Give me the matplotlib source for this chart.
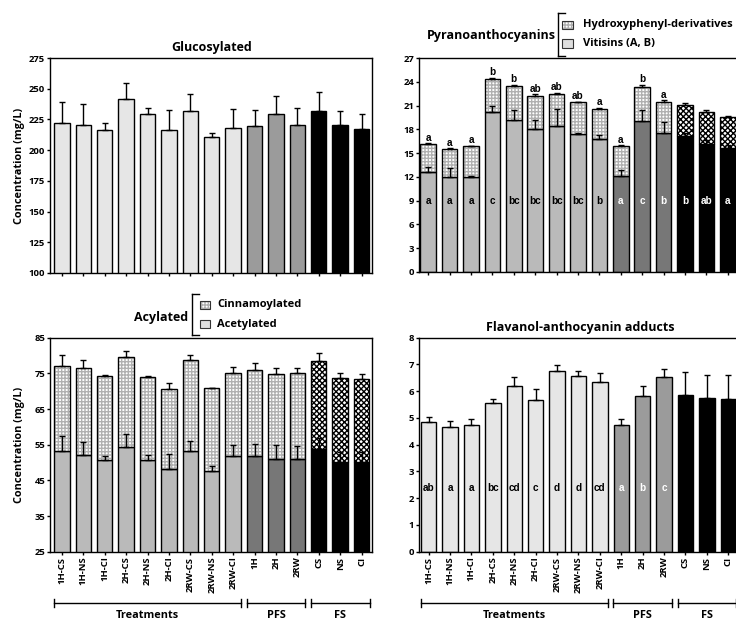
import matplotlib
matplotlib.use('Agg')
import matplotlib.pyplot as plt
import numpy as np
from matplotlib.transforms import blended_transform_factory
from matplotlib.patches import Rectangle
from matplotlib.lines import Line2D

plt.rcParams['font.family'] = ['Open Sans', 'DejaVu Sans']
plt.rcParams['font.weight'] = 'bold'
plt.rcParams['hatch.linewidth'] = 1.0

# ---------------- data ----------------
samples = ["1H-CS", "1H-NS", "1H-CI", "2H-CS", "2H-NS", "2H-CI",
           "2RW-CS", "2RW-NS", "2RW-CI", "1H", "2H", "2RW", "CS", "NS", "CI"]
group_names = ["Treatments", "PFS", "FS"]
group_first = [0, 9, 12]
group_last = [8, 11, 14]

gluc = [222.3, 220.7, 216.3, 241.3, 229.1, 216.6, 231.5, 211.1, 217.7,
        219.6, 229.1, 220.1, 231.5, 220.1, 217.1]
gluc_err = [17.1, 16.8, 5.4, 13.3, 5.4, 16.3, 13.9, 3.0, 16.0,
            12.7, 15.2, 13.9, 15.8, 12.0, 12.0]

vitisins = [12.6, 12.0, 12.0, 20.2, 19.2, 18.1, 18.4, 17.4, 16.8,
            12.1, 19.1, 17.5, 17.1, 16.2, 15.7]
vitisins_err = [0.6, 1.1, 0.15, 0.7, 1.25, 1.05, 2.15, 0.15, 0.45,
                0.8, 1.3, 1.4, 0.4, 0.4, 0.3]
hydroxyphenyl = [3.6, 3.5, 3.9, 4.2, 4.3, 4.1, 4.0, 4.0, 3.8,
                 3.8, 4.3, 4.0, 4.0, 4.0, 3.9]
hydroxyphenyl_err = [0.08, 0.1, 0.05, 0.1, 0.12, 0.2, 0.2, 0.08, 0.15,
                     0.1, 0.22, 0.15, 0.25, 0.25, 0.12]
pyrano_top_letters = ['a', 'a', 'a', 'b', 'b', 'ab', 'ab', 'ab', 'a',
                      'a', 'b', 'a', '', '', '']
pyrano_in_letters = ['a', 'a', 'a', 'c', 'bc', 'bc', 'bc', 'bc', 'b',
                     'a', 'c', 'b', 'b', 'ab', 'a']

acetylated = [53.2, 52.0, 50.6, 54.3, 50.8, 48.1, 53.2, 47.6, 51.8,
              51.9, 51.1, 51.1, 53.8, 50.2, 50.2]
acetylated_err = [4.3, 3.8, 1.2, 3.6, 1.2, 4.4, 2.8, 1.4, 3.0,
                  3.2, 3.8, 3.5, 3.0, 2.8, 2.7]
cinnamoylated = [24.0, 24.5, 23.7, 25.4, 23.3, 22.4, 25.5, 23.2, 23.4,
                 24.1, 23.6, 23.9, 24.8, 23.6, 23.2]
cinnamoylated_err = [2.9, 2.3, 0.15, 1.7, 0.15, 1.8, 1.4, 0.1, 1.6,
                     1.9, 1.9, 1.6, 2.0, 1.4, 1.3]

flavanol = [4.86, 4.66, 4.72, 5.57, 6.18, 5.66, 6.75, 6.58, 6.36,
            4.74, 5.81, 6.54, 5.85, 5.73, 5.72]
flavanol_err = [0.16, 0.21, 0.23, 0.15, 0.36, 0.42, 0.24, 0.16, 0.33,
                0.21, 0.40, 0.30, 0.87, 0.87, 0.88]
flavanol_letters = ['ab', 'a', 'a', 'bc', 'cd', 'c', 'd', 'd', 'cd',
                    'a', 'b', 'c', '', '', '']

# ---------------- layout ----------------
FW, FH = 736, 621
fig = plt.figure(figsize=(FW / 100, FH / 100), dpi=100)


def fx(px):
    return px / FW


def fy(py):
    return 1 - py / FH


UNIT = 21.4  # px per bar slot
W = 0.72
x = np.arange(len(samples))
n = len(samples)
grp = np.array([0] * 9 + [1] * 3 + [2] * 3)

LIGHT_HATCH = '+++++'
LIGHT_HC = '#b0b0b0'
DARK_HATCH = 'xxxxxx'


def make_ax(left_px, top_px, bottom_px, xmin):
    xmax = 14.48
    width_px = (xmax - xmin) * UNIT
    ax = fig.add_axes([fx(left_px), fy(bottom_px), width_px / FW,
                       (bottom_px - top_px) / FH])
    ax.set_xlim(xmin, xmax)
    for s in ax.spines.values():
        s.set_linewidth(1.0)
    ax.tick_params(direction='out', length=2.5, width=1.0, labelsize=6.8, pad=1)
    ax.set_xticks(x)
    return ax


ax_g = make_ax(50, 58, 273, -0.56)
ax_p = make_ax(419, 58, 272, -0.43)
ax_a = make_ax(50, 337.7, 551.7, -0.56)
ax_f = make_ax(419, 337.7, 551.7, -0.45)

solid_colors_light = ['#e6e6e6', '#9b9b9b', '#000000']
solid_colors_mid = ['#bababa', '#777777', '#000000']


def hatched(ax, xi, h, bottom, fc, hc, hatch, z=2):
    ax.bar(xi, h, W, bottom=bottom, color=fc, edgecolor=hc, linewidth=0,
           hatch=hatch, zorder=z)
    ax.bar(xi, h, W, bottom=bottom, fill=False, edgecolor='black',
           linewidth=1.0, zorder=z + 0.5)


def errs(ax, xs, tops, e):
    ax.errorbar(xs, tops, yerr=[np.zeros(len(e)), e], fmt='none', ecolor='black',
                elinewidth=1.0, capsize=2.5, capthick=1.0, zorder=5)


# --- Glucosylated ---
ax_g.bar(x, gluc, W, color=[solid_colors_light[g] for g in grp],
         edgecolor='black', linewidth=1.0, zorder=2)
errs(ax_g, x, gluc, gluc_err)
ax_g.set_ylim(100, 275)
ax_g.set_yticks(np.arange(100, 276, 25))
ax_g.set_xticklabels([])


# --- stacked panels ---
def stacked(ax, base, base_err, top, top_err, base_bottom=0):
    base = np.array(base)
    top = np.array(top)
    cols = [solid_colors_mid[g] for g in grp]
    ax.bar(x, base - base_bottom, W, bottom=base_bottom, color=cols,
           edgecolor='black', linewidth=1.0, zorder=2)
    for i in range(n):
        if grp[i] < 2:
            hatched(ax, x[i], top[i], base[i], 'white', LIGHT_HC, LIGHT_HATCH)
        else:
            hatched(ax, x[i], top[i], base[i], 'white', 'black', DARK_HATCH)
    errs(ax, x, base, base_err)
    errs(ax, x, base + top, top_err)


stacked(ax_p, vitisins, vitisins_err, hydroxyphenyl, hydroxyphenyl_err)
ax_p.set_ylim(0, 27)
ax_p.set_yticks(np.arange(0, 28, 3))
ax_p.set_xticklabels([])
tot_p = np.array(vitisins) + np.array(hydroxyphenyl) + np.array(hydroxyphenyl_err)
for i in range(n):
    if pyrano_top_letters[i]:
        ax_p.text(x[i], tot_p[i] + 0.05, pyrano_top_letters[i], ha='center',
                  va='bottom', fontsize=7.2, fontweight='bold',
                  family=['Liberation Sans', 'DejaVu Sans'])
    ax_p.text(x[i], 9.0, pyrano_in_letters[i], ha='center', va='center',
              fontsize=7.2, fontweight='bold',
              color='black' if grp[i] == 0 else 'white',
              family=['Liberation Sans', 'DejaVu Sans'])

stacked(ax_a, acetylated, acetylated_err, cinnamoylated, cinnamoylated_err)
ax_a.set_ylim(25, 85)
ax_a.set_yticks(np.arange(25, 86, 10))

ax_f.bar(x, flavanol, W, color=[solid_colors_light[g] for g in grp],
         edgecolor='black', linewidth=1.0, zorder=2)
errs(ax_f, x, flavanol, flavanol_err)
ax_f.set_ylim(0, 8)
ax_f.set_yticks(np.arange(0, 9, 1))
for i in range(n):
    if flavanol_letters[i]:
        ax_f.text(x[i], 2.4, flavanol_letters[i], ha='center', va='center',
                  fontsize=7.2, fontweight='bold',
                  color='black' if grp[i] == 0 else 'white',
                  family=['Liberation Sans', 'DejaVu Sans'])

# x tick labels + group brackets for bottom panels
for ax in (ax_a, ax_f):
    ax.set_xticklabels(samples, rotation=90, fontsize=6.8)
    tr = blended_transform_factory(ax.transData, ax.transAxes)
    yb = -0.24
    for name, s, e in zip(group_names, group_first, group_last):
        x0, x1 = s - 0.37, e + 0.37
        ax.add_line(Line2D([x0, x1], [yb, yb], transform=tr, color='black',
                           lw=1.0, clip_on=False))
        for xe in (x0, x1):
            ax.add_line(Line2D([xe, xe], [yb - 0.02, yb + 0.02], transform=tr,
                               color='black', lw=1.0, clip_on=False))
        ax.text((x0 + x1) / 2, -0.30, name, transform=tr, ha='center',
                va='center', fontsize=7.8, fontweight='bold', clip_on=False)

# y labels
for ax, (t, b) in ((ax_g, (58, 273)), (ax_a, (337.7, 551.7))):
    fig.text(fx(20), fy((t + b) / 2), 'Concentration (mg/L)', rotation=90,
             ha='center', va='center', fontsize=7.8, fontweight='bold')

# titles
fig.text(fx(212), fy(47), 'Glucosylated', ha='center', va='center',
         fontsize=9, fontweight='bold')
fig.text(fx(580), fy(327), 'Flavanol-anthocyanin adducts', ha='center',
         va='center', fontsize=9, fontweight='bold')
fig.text(fx(556), fy(35), 'Pyranoanthocyanins', ha='right', va='center',
         fontsize=9, fontweight='bold')
fig.text(fx(188), fy(317), 'Acylated', ha='right', va='center',
         fontsize=9, fontweight='bold')


def legend_block(bx, ytop, ybot, box_x0, box_w, box_h, y1, y2, txt_x, labels,
                 second_color):
    tf = fig.transFigure
    fig.add_artist(Line2D([fx(bx), fx(bx)], [fy(ytop), fy(ybot)], transform=tf,
                          color='black', lw=1.0))
    for yy in (ytop, ybot):
        fig.add_artist(Line2D([fx(bx), fx(bx + 7)], [fy(yy), fy(yy)],
                              transform=tf, color='black', lw=1.0))
    r = Rectangle((fx(box_x0), fy(y1 + box_h / 2)), box_w / FW, box_h / FH,
                  transform=tf, facecolor='white', edgecolor=LIGHT_HC,
                  linewidth=0, hatch=LIGHT_HATCH)
    fig.add_artist(r)
    fig.add_artist(Rectangle((fx(box_x0), fy(y1 + box_h / 2)), box_w / FW,
                             box_h / FH, transform=tf, fill=False,
                             edgecolor='#333333', linewidth=0.8))
    fig.add_artist(Rectangle((fx(box_x0), fy(y2 + box_h / 2)), box_w / FW,
                             box_h / FH, transform=tf, facecolor=second_color,
                             edgecolor='#333333', linewidth=0.8))
    fig.text(fx(txt_x), fy(y1), labels[0], ha='left', va='center',
             fontsize=8, fontweight='bold')
    fig.text(fx(txt_x), fy(y2), labels[1], ha='left', va='center',
             fontsize=8, fontweight='bold')


legend_block(558, 13, 56, 562, 11, 8.5, 25, 43.5, 583,
             ['Hydroxyphenyl-derivatives', 'Vitisins (A, B)'], '#dedede')
legend_block(192, 294, 335, 199.5, 10, 8, 305, 324, 217,
             ['Cinnamoylated', 'Acetylated'], '#dedede')

fig.savefig('out.png', dpi=100)
